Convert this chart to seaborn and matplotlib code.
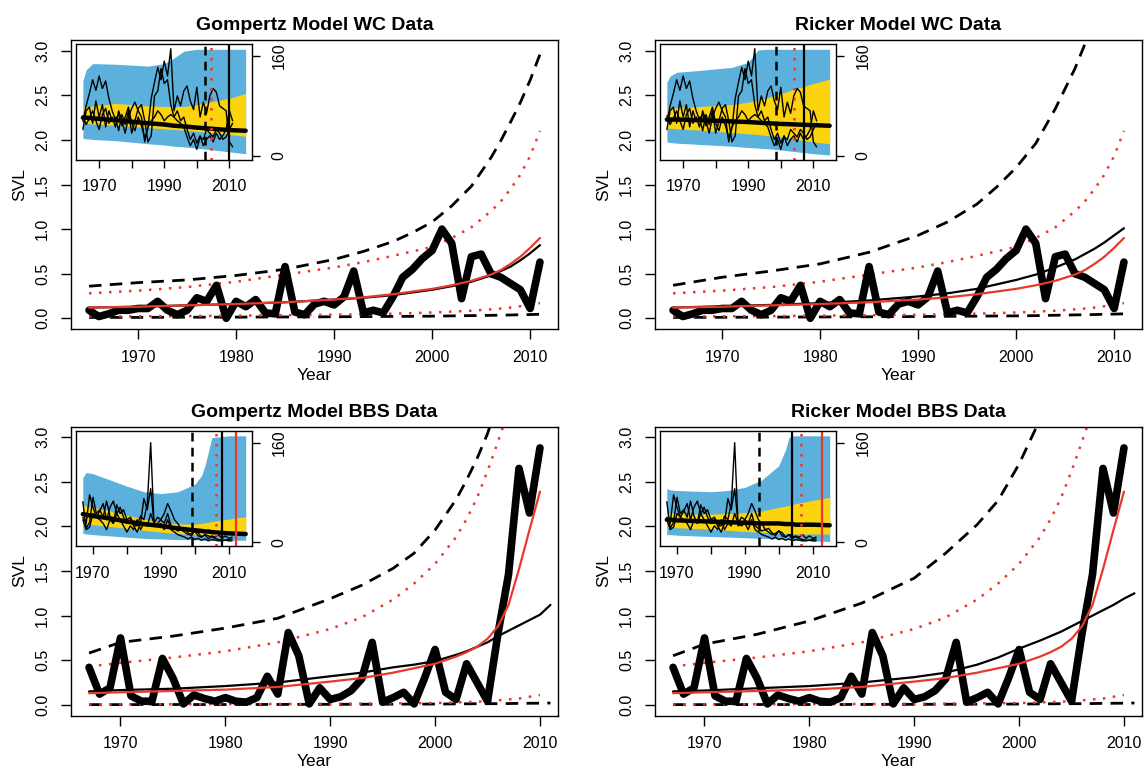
import numpy as np
import matplotlib
matplotlib.use("Agg")
import matplotlib.pyplot as plt
import seaborn as sns

# ---------------- main SVL series ----------------
wc_years = list(range(1965, 2012))
wc_svl = [0.09, 0.02, 0.05, 0.09, 0.09, 0.11, 0.11, 0.19, 0.09, 0.04,
          0.09, 0.23, 0.19, 0.37, 0.00, 0.19, 0.13, 0.21, 0.06, 0.05,
          0.58, 0.07, 0.04, 0.16, 0.19, 0.15, 0.24, 0.53, 0.06, 0.09,
          0.06, 0.24, 0.46, 0.55, 0.67, 0.76, 1.00, 0.84, 0.22, 0.69,
          0.72, 0.50, 0.46, 0.39, 0.32, 0.11, 0.63]

bbs_years = list(range(1967, 2011))
bbs_svl = [0.42, 0.12, 0.19, 0.75, 0.10, 0.04, 0.04, 0.52, 0.30, 0.01,
           0.11, 0.07, 0.04, 0.08, 0.04, 0.03, 0.08, 0.32, 0.12, 0.81,
           0.55, 0.01, 0.19, 0.06, 0.09, 0.16, 0.29, 0.70, 0.03, 0.08,
           0.14, 0.01, 0.30, 0.62, 0.14, 0.06, 0.46, 0.25, 0.04, 0.80,
           1.46, 2.65, 2.15, 2.88]

# ---------------- fitted curves, WC ----------------
wc_fit_years = [1965, 1970, 1975, 1980, 1985, 1990, 1993, 1996, 1998, 2000,
                2002, 2004, 2006, 2007, 2008, 2009, 2010, 2011]
wc_obs = [0.12, 0.13, 0.145, 0.16, 0.18, 0.21, 0.235, 0.27, 0.30, 0.33,
          0.37, 0.42, 0.49, 0.54, 0.61, 0.69, 0.79, 0.90]
wc_obs_hi = [0.28, 0.31, 0.35, 0.41, 0.49, 0.57, 0.63, 0.70, 0.75, 0.80,
             0.90, 1.02, 1.20, 1.31, 1.45, 1.61, 1.82, 2.10]
wc_obs_lo = [0.02, 0.022, 0.025, 0.03, 0.035, 0.04, 0.045, 0.052, 0.058, 0.065,
             0.075, 0.085, 0.10, 0.11, 0.12, 0.135, 0.15, 0.17]
gomp_wc_fit = [0.12, 0.13, 0.145, 0.16, 0.18, 0.21, 0.23, 0.26, 0.29, 0.32,
               0.36, 0.41, 0.48, 0.53, 0.58, 0.65, 0.73, 0.82]
gomp_wc_hi = [0.36, 0.40, 0.43, 0.48, 0.55, 0.66, 0.75, 0.86, 0.96, 1.08,
              1.26, 1.48, 1.80, 1.99, 2.20, 2.42, 2.67, 2.96]
gomp_wc_lo = [0.01, 0.01, 0.012, 0.013, 0.015, 0.017, 0.019, 0.021, 0.022, 0.024,
              0.027, 0.03, 0.033, 0.035, 0.037, 0.04, 0.042, 0.045]
rick_wc_fit = [0.12, 0.135, 0.15, 0.17, 0.20, 0.245, 0.28, 0.33, 0.38, 0.43,
               0.49, 0.57, 0.66, 0.72, 0.78, 0.85, 0.93, 1.01]
rick_wc_hi = [0.37, 0.46, 0.53, 0.61, 0.74, 0.93, 1.08, 1.28, 1.47, 1.69,
              1.96, 2.35, 2.80, 3.07, 3.35, 3.66, 4.00, 4.40]
rick_wc_lo = [0.01, 0.011, 0.013, 0.015, 0.017, 0.02, 0.022, 0.024, 0.026, 0.027,
              0.03, 0.034, 0.038, 0.04, 0.042, 0.045, 0.047, 0.05]

# ---------------- fitted curves, BBS ----------------
bbs_fit_years = [1967, 1970, 1975, 1980, 1985, 1990, 1993, 1996, 1998, 2000,
                 2002, 2003, 2004, 2005, 2006, 2007, 2008, 2009, 2010, 2011]
bbs_obs_years = bbs_fit_years[:-1]
bbs_obs = [0.13, 0.14, 0.155, 0.17, 0.20, 0.26, 0.30, 0.36, 0.41, 0.46,
           0.54, 0.59, 0.65, 0.74, 0.88, 1.12, 1.52, 1.96, 2.39]
bbs_obs_hi = [0.43, 0.47, 0.53, 0.60, 0.70, 0.85, 0.98, 1.18, 1.36, 1.58,
              1.88, 2.08, 2.32, 2.62, 2.95, 3.30, 3.70, 4.10, 4.50]
bbs_obs_lo = [0.005, 0.005, 0.006, 0.007, 0.009, 0.011, 0.013, 0.016, 0.018, 0.02,
              0.026, 0.03, 0.035, 0.04, 0.05, 0.06, 0.07, 0.09, 0.11]
gomp_bbs_fit = [0.15, 0.165, 0.18, 0.21, 0.25, 0.32, 0.36, 0.42, 0.45, 0.49,
                0.56, 0.60, 0.65, 0.70, 0.77, 0.83, 0.89, 0.95, 1.01, 1.12]
gomp_bbs_hi = [0.58, 0.70, 0.77, 0.86, 0.97, 1.19, 1.34, 1.53, 1.70, 1.96,
               2.30, 2.52, 2.76, 3.04, 3.40, 3.80, 4.20, 4.70, 5.20, 5.80]
gomp_bbs_lo = [0.002, 0.002, 0.003, 0.003, 0.004, 0.005, 0.006, 0.007, 0.008, 0.008,
               0.01, 0.011, 0.012, 0.012, 0.013, 0.014, 0.016, 0.017, 0.018, 0.02]
rick_bbs_fit = [0.15, 0.16, 0.185, 0.21, 0.25, 0.31, 0.36, 0.45, 0.53, 0.63,
                0.72, 0.77, 0.82, 0.88, 0.94, 1.00, 1.06, 1.12, 1.19, 1.25]
rick_bbs_hi = [0.55, 0.68, 0.79, 0.94, 1.14, 1.42, 1.70, 2.02, 2.29, 2.70,
               3.20, 3.60, 4.00, 4.30, 4.70, 5.10, 5.60, 6.10, 6.60, 7.20]
rick_bbs_lo = [0.002, 0.002, 0.003, 0.003, 0.004, 0.005, 0.006, 0.007, 0.008, 0.008,
               0.01, 0.011, 0.012, 0.012, 0.013, 0.014, 0.016, 0.017, 0.018, 0.02]

# ---------------- inset counts ----------------
wc_count_years = list(range(1965, 2012))
wc_count_a = [55, 80, 100, 122, 105, 128, 108, 120, 92, 72,
              58, 66, 48, 62, 78, 52, 40, 62, 48, 28,
              45, 92, 118, 142, 122, 152, 128, 172, 72, 96,
              80, 104, 112, 88, 74, 110, 62, 86, 68, 96,
              108, 102, 80, 76, 72, 22, 14]
wc_count_b = [42, 72, 78, 52, 88, 62, 82, 46, 72, 56,
              62, 40, 66, 50, 72, 36, 56, 76, 82, 56,
              22, 32, 96, 104, 140, 116, 122, 82, 62, 72,
              56, 62, 42, 26, 36, 20, 32, 16, 26, 32,
              22, 36, 26, 32, 42, 72, 56]
wc_count_c = [64, 50, 60, 72, 56, 42, 66, 76, 52, 62,
              46, 72, 56, 36, 62, 76, 86, 72, 62, 22,
              46, 56, 62, 72, 66, 56, 62, 66, 62, 56,
              52, 46, 30, 16, 26, 10, 30, 26, 42, 36,
              30, 42, 36, 26, 30, 42, 52]

bbs_count_years = list(range(1967, 2012))
bbs_count_a = [65, 22, 32, 72, 46, 52, 40, 66, 42, 30,
               60, 46, 52, 36, 40, 30, 26, 42, 36, 62,
               160, 26, 30, 36, 30, 46, 26, 22, 18, 20,
               16, 12, 14, 18, 15, 8, 12, 10, 8, 6,
               4, 3, 3, 4, 5]
bbs_count_b = [40, 30, 76, 56, 40, 50, 62, 36, 56, 66,
               46, 56, 40, 30, 36, 26, 16, 30, 70, 52,
               86, 30, 40, 36, 46, 62, 50, 36, 30, 20,
               22, 15, 10, 18, 10, 8, 12, 5, 10, 8,
               12, 6, 10, 6, 8]
bbs_count_c = [36, 20, 24, 46, 40, 36, 30, 20, 36, 30,
               46, 36, 26, 16, 26, 20, 36, 20, 30, 26,
               46, 30, 26, 30, 20, 36, 20, 16, 12, 10,
               8, 5, 8, 4, 6, 3, 5, 2, 4, 3,
               2, 2, 3, 2, 2]

# ---------------- inset projection bands ----------------
wc_band_years = [1965, 1966, 1968, 1975, 1985, 1990, 1993, 1996, 2000, 2005, 2010, 2015]
gomp_wc_blue_hi = [120, 138, 148, 147, 144, 148, 157, 168, 171, 171, 171, 171]
gomp_wc_blue_lo = [28, 27, 26, 24, 19, 17, 15, 14, 12, 9, 6, 3]
gomp_wc_gold_hi = [77, 78, 80, 84, 80, 79, 79, 79, 82, 87, 92, 100]
gomp_wc_gold_lo = [52, 52, 51, 49, 45, 43, 42, 41, 39, 37, 34, 31]
gomp_wc_trend = [61, 61, 60, 57, 52, 50, 48, 47, 45, 43, 41, 40]
rick_wc_blue_hi = [118, 128, 134, 137, 142, 150, 170, 171, 171, 171, 171, 171]
rick_wc_blue_lo = [22, 21, 20, 18, 15, 13, 12, 11, 9, 6, 3, 1]
rick_wc_gold_hi = [76, 76, 77, 79, 82, 86, 89, 93, 100, 108, 116, 123]
rick_wc_gold_lo = [44, 44, 43, 41, 37, 35, 34, 32, 30, 26, 22, 19]
rick_wc_trend = [58, 58, 58, 57, 55, 54, 53, 52, 51, 50, 49, 48]

bbs_band_years = [1967, 1968, 1970, 1975, 1980, 1985, 1990, 1995, 2000, 2002, 2003, 2004, 2005, 2010, 2015]
gomp_bbs_blue_hi = [104, 112, 110, 100, 90, 81, 78, 81, 93, 107, 123, 145, 168, 171, 171]
gomp_bbs_blue_lo = [14, 13, 12, 10, 8, 6, 5, 4, 4, 3, 3, 3, 3, 3, 3]
gomp_bbs_gold_hi = [60, 58, 56, 50, 43, 37, 32, 29, 29, 30, 31, 32, 33, 37, 41]
gomp_bbs_gold_lo = [30, 29, 28, 25, 22, 19, 16, 14, 12, 12, 12, 11, 11, 11, 11]
gomp_bbs_trend = [45, 44, 42, 38, 33, 29, 26, 22, 19, 18, 17, 17, 16, 14, 13]
rick_bbs_blue_hi = [86, 84, 83, 82, 81, 83, 88, 100, 123, 149, 168, 171, 171, 171, 171]
rick_bbs_blue_lo = [12, 12, 11, 10, 9, 8, 7, 6, 5, 4, 4, 4, 3, 2, 1]
rick_bbs_gold_hi = [47, 47, 46, 45, 45, 46, 47, 50, 56, 58, 59, 60, 62, 67, 72]
rick_bbs_gold_lo = [24, 24, 23, 22, 21, 19, 17, 16, 14, 14, 14, 13, 13, 13, 13]
rick_bbs_trend = [36, 36, 35, 34, 33, 32, 31, 30, 30, 29, 29, 29, 28, 28, 27]

# vertical marker years in insets: [dashed black, dotted red, solid black, solid red]
gomp_wc_marks = [2002.4, 2004.5, 2010.0, None]
rick_wc_marks = [1998.4, 2004.1, 2007.1, None]
gomp_bbs_marks = [1999.3, 2006.3, 2008.0, 2012.1]
rick_bbs_marks = [1994.3, 2006.6, 2004.0, 2012.6]

sns.set_theme(style="ticks")
plt.rcParams['font.family'] = ['Liberation Sans', 'DejaVu Sans']
plt.rcParams.update({'axes.edgecolor': 'black', 'axes.linewidth': 1.0,
                     'xtick.color': 'black', 'ytick.color': 'black',
                     'text.color': 'black', 'axes.labelcolor': 'black'})

RED = '#E8392B'
BLUE = '#5BB1DC'
GOLD = '#FCD40E'
DASH = (0, (4.5, 3))
DOT = (0, (1, 3))
TICK_FS = 11.5


def line(ax, x, y, **kw):
    sns.lineplot(x=x, y=y, ax=ax, estimator=None, sort=False, **kw)


def draw_inset(ax, cyears, counts, byears, blue_lo, blue_hi, gold_lo, gold_hi, trend, marks, xlim):
    ins = ax.inset_axes([0.011, 0.585, 0.361, 0.40])
    ins.set_facecolor('white')
    ins.fill_between(byears, blue_lo, blue_hi, color=BLUE, lw=0)
    ins.fill_between(byears, gold_lo, gold_hi, color=GOLD, lw=0)
    for c in counts:
        line(ins, cyears, c, color='black', lw=1.0)
    line(ins, byears, trend, color='black', lw=3.2)
    dash_x, dot_x, solid_x, red_x = marks
    ins.axvline(dash_x, color='black', lw=1.8, linestyle=(0, (3.5, 2.5)))
    ins.axvline(dot_x, color=RED, lw=1.8, linestyle=DOT)
    ins.axvline(solid_x, color='black', lw=1.6)
    if red_x is not None:
        ins.axvline(red_x, color=RED, lw=1.6)
    ins.set_xlim(*xlim)
    ins.set_ylim(-7, 179)
    ins.set_xticks([1970, 1980, 1990, 2000, 2010])
    ins.set_xticklabels(['1970', '', '1990', '', '2010'], fontsize=TICK_FS)
    ins.yaxis.tick_right()
    ins.set_yticks([0, 160])
    ins.set_yticklabels(['0', '160'], fontsize=TICK_FS, rotation=90, va='center')
    ins.tick_params(axis='both', direction='out', length=6, width=1, pad=8)
    ins.set_xlabel('')
    ins.set_ylabel('')
    return ins


def draw_panel(ax, title, years, svl, fit_years, fit, fit_hi, fit_lo,
               obs_years, obs, obs_hi, obs_lo, xlim):
    line(ax, fit_years, fit_lo, color='black', lw=2, linestyle=DASH)
    line(ax, obs_years, obs_lo, color=RED, lw=1.8, linestyle=DOT)
    line(ax, fit_years, fit_hi, color='black', lw=2, linestyle=DASH)
    line(ax, obs_years, obs_hi, color=RED, lw=1.8, linestyle=DOT)
    line(ax, years, svl, color='black', lw=5.5)
    line(ax, fit_years, fit, color='black', lw=1.6)
    line(ax, obs_years, obs, color=RED, lw=1.6)
    ax.set_xlim(*xlim)
    ax.set_ylim(-0.12, 3.12)
    ax.set_xticks([1970, 1980, 1990, 2000, 2010])
    yt = [0, 0.5, 1.0, 1.5, 2.0, 2.5, 3.0]
    ax.set_yticks(yt)
    ax.set_yticklabels([f"{v:.1f}" for v in yt], rotation=90, va='center')
    ax.tick_params(axis='both', direction='out', length=7, width=1, pad=8, labelsize=TICK_FS)
    ax.set_xlabel('Year', fontsize=12.5, labelpad=2)
    ax.set_ylabel('SVL', fontsize=12.5, labelpad=6)
    ax.set_title(title, fontsize=14, fontweight='bold', pad=7)


fig = plt.figure(figsize=(11.47, 7.73), dpi=100)
W, H = 1147, 773
ax_w, ax_h = 487 / W, 289 / H
ax_tl = fig.add_axes([71 / W, 1 - 329 / H, ax_w, ax_h])
ax_tr = fig.add_axes([655 / W, 1 - 329 / H, ax_w, ax_h])
ax_bl = fig.add_axes([71 / W, 1 - 715.5 / H, ax_w, ax_h])
ax_br = fig.add_axes([655 / W, 1 - 715.5 / H, ax_w, ax_h])

wc_xlim = (1963.16, 2012.84)
bbs_xlim = (1965.28, 2011.72)
wc_ins_xlim = (1963.0, 2017.0)
bbs_ins_xlim = (1965.1, 2016.9)

draw_panel(ax_tl, 'Gompertz Model WC Data', wc_years, wc_svl, wc_fit_years,
           gomp_wc_fit, gomp_wc_hi, gomp_wc_lo, wc_fit_years, wc_obs, wc_obs_hi, wc_obs_lo, wc_xlim)
draw_panel(ax_tr, 'Ricker Model WC Data', wc_years, wc_svl, wc_fit_years,
           rick_wc_fit, rick_wc_hi, rick_wc_lo, wc_fit_years, wc_obs, wc_obs_hi, wc_obs_lo, wc_xlim)
draw_panel(ax_bl, 'Gompertz Model BBS Data', bbs_years, bbs_svl, bbs_fit_years,
           gomp_bbs_fit, gomp_bbs_hi, gomp_bbs_lo, bbs_obs_years, bbs_obs, bbs_obs_hi, bbs_obs_lo, bbs_xlim)
draw_panel(ax_br, 'Ricker Model BBS Data', bbs_years, bbs_svl, bbs_fit_years,
           rick_bbs_fit, rick_bbs_hi, rick_bbs_lo, bbs_obs_years, bbs_obs, bbs_obs_hi, bbs_obs_lo, bbs_xlim)

wc_counts = [wc_count_a, wc_count_b, wc_count_c]
bbs_counts = [bbs_count_a, bbs_count_b, bbs_count_c]
draw_inset(ax_tl, wc_count_years, wc_counts, wc_band_years, gomp_wc_blue_lo, gomp_wc_blue_hi,
           gomp_wc_gold_lo, gomp_wc_gold_hi, gomp_wc_trend, gomp_wc_marks, wc_ins_xlim)
draw_inset(ax_tr, wc_count_years, wc_counts, wc_band_years, rick_wc_blue_lo, rick_wc_blue_hi,
           rick_wc_gold_lo, rick_wc_gold_hi, rick_wc_trend, rick_wc_marks, wc_ins_xlim)
draw_inset(ax_bl, bbs_count_years, bbs_counts, bbs_band_years, gomp_bbs_blue_lo, gomp_bbs_blue_hi,
           gomp_bbs_gold_lo, gomp_bbs_gold_hi, gomp_bbs_trend, gomp_bbs_marks, bbs_ins_xlim)
draw_inset(ax_br, bbs_count_years, bbs_counts, bbs_band_years, rick_bbs_blue_lo, rick_bbs_blue_hi,
           rick_bbs_gold_lo, rick_bbs_gold_hi, rick_bbs_trend, rick_bbs_marks, bbs_ins_xlim)

fig.savefig('out.png', dpi=100)
plt.close(fig)
